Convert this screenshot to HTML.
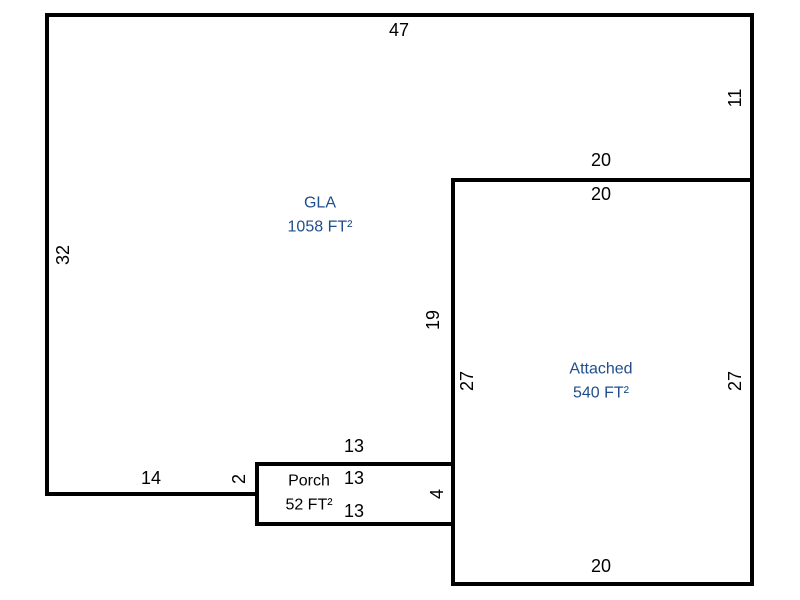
<!DOCTYPE html>
<html><head><style>
body{margin:0;background:#fff;}
svg{display:block;}
text{font-family:"Liberation Sans",Arial,sans-serif;text-anchor:middle;dominant-baseline:central;}
.d{font-size:18px;fill:#000;}
.l{font-size:16px;fill:#1f4e8c;}
.p{font-size:16px;fill:#000;}
</style></head><body>
<svg width="800" height="600" viewBox="0 0 800 600">
<g fill="none" stroke="#000" stroke-width="4" stroke-linecap="square">
<path d="M47 494 V15 H752 V584 H453 V180 H752"/>
<path d="M47 494 H257 V524 H453 M257 494 V464 H453"/>
</g>
<text class="d" x="399" y="30">47</text>
<text class="d" x="735" y="98" transform="rotate(-90 735 98)">11</text>
<text class="d" x="601" y="160">20</text>
<text class="d" x="601" y="194">20</text>
<text class="l" x="320" y="203">GLA</text>
<text class="l" x="320" y="227">1058 FT²</text>
<text class="d" x="63" y="255" transform="rotate(-90 63 255)">32</text>
<text class="d" x="433" y="320" transform="rotate(-90 433 320)">19</text>
<text class="d" x="467" y="381" transform="rotate(-90 467 381)">27</text>
<text class="d" x="735" y="381" transform="rotate(-90 735 381)">27</text>
<text class="l" x="601" y="369">Attached</text>
<text class="l" x="601" y="393">540 FT²</text>
<text class="d" x="354" y="446">13</text>
<text class="d" x="354" y="478">13</text>
<text class="d" x="354" y="511">13</text>
<text class="d" x="151" y="478">14</text>
<text class="d" x="239" y="479" transform="rotate(-90 239 479)">2</text>
<text class="p" x="309" y="481">Porch</text>
<text class="p" x="309" y="505">52 FT²</text>
<text class="d" x="437" y="494" transform="rotate(-90 437 494)">4</text>
<text class="d" x="601" y="566">20</text>
</svg>
</body></html>
